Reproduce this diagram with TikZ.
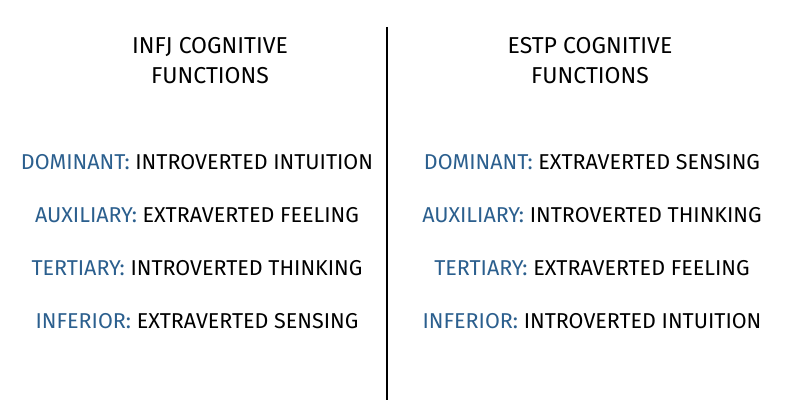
\documentclass[tikz,border=0pt]{standalone}
\usepackage{fontspec}
\setmainfont{Fira Sans}
\definecolor{lblblue}{HTML}{2B5F8E}
\begin{document}
\begin{tikzpicture}[x=1pt,y=-1pt,
  ttl/.style={font=\fontsize{23}{30}\selectfont, align=center, anchor=center},
  row/.style={font=\fontsize{21.5}{26}\selectfont, anchor=center, inner sep=0pt}]
\useasboundingbox (0,0) rectangle (800,411);
\fill[white] (0,0) rectangle (800,411);
\coordinate (lt) at (387,27);
\coordinate (lb) at (387,400);
\draw[line width=2pt] (lt) -- (lb);
\node[ttl] (t1) at (210,61) {INFJ COGNITIVE\\FUNCTIONS};
\node[ttl] (t2) at (590,61) {ESTP COGNITIVE\\FUNCTIONS};
\node[row] (a1) at (197,162) {\textcolor{lblblue}{DOMINANT:} INTROVERTED INTUITION};
\node[row] (a2) at (197,215) {\textcolor{lblblue}{AUXILIARY:} EXTRAVERTED FEELING};
\node[row] (a3) at (197,268) {\textcolor{lblblue}{TERTIARY:} INTROVERTED THINKING};
\node[row] (a4) at (197,321) {\textcolor{lblblue}{INFERIOR:} EXTRAVERTED SENSING};
\node[row] (b1) at (592,162) {\textcolor{lblblue}{DOMINANT:} EXTRAVERTED SENSING};
\node[row] (b2) at (592,215) {\textcolor{lblblue}{AUXILIARY:} INTROVERTED THINKING};
\node[row] (b3) at (592,268) {\textcolor{lblblue}{TERTIARY:} EXTRAVERTED FEELING};
\node[row] (b4) at (592,321) {\textcolor{lblblue}{INFERIOR:} INTROVERTED INTUITION};
\end{tikzpicture}
\end{document}
